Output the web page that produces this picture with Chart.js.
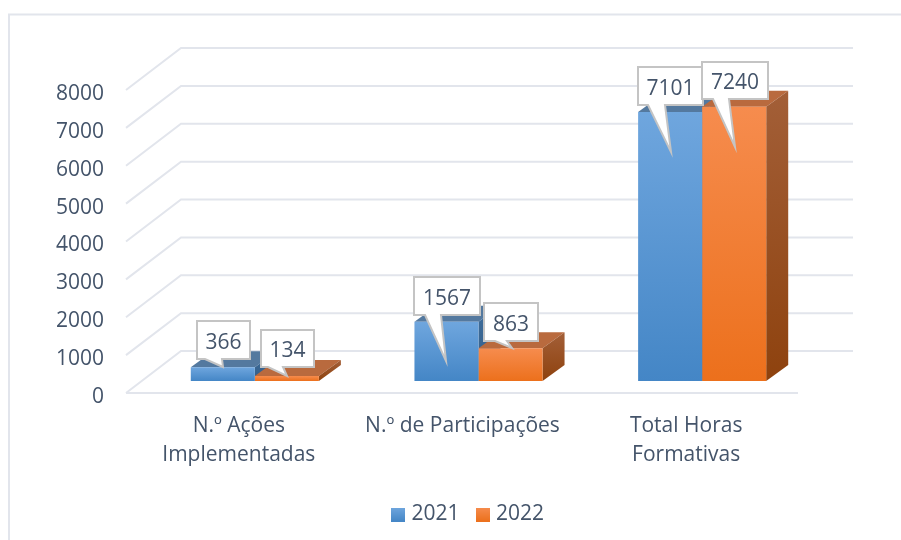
<!DOCTYPE html>
<html><head><meta charset="utf-8">
<style>html,body{margin:0;padding:0;background:#fff}#w{width:901px;height:540px;position:relative}</style>
<script src="https://cdn.jsdelivr.net/npm/chart.js@4"></script>
</head><body><div id="w"><canvas id="c" width="901" height="540"></canvas></div>
<script>
const categories = [["N.º Ações","Implementadas"],"N.º de Participações",["Total Horas","Formativas"]];
const years = ["2021","2022"];
const values2021 = [366,1567,7101];
const values2022 = [134,863,7240];
const yMax = 8000, yStep = 1000;

const FONT = '"Open Sans"';
const TEXT = '#44546a';
const GRID = '#e2e5ec';
const front = [{top:'#6fa6de',bottom:'#4486c6',cap:'#54799f',side:'#3f6e9c',side2:'#335d88'},
               {top:'#f68c4e',bottom:'#ec701c',cap:'#b96a3e',side:'#a35f38',side2:'#8e420e'}];
// callout box offsets relative to the top-centre of each bar: [left,right,top,bottom,tailA,tailB,tipX,tipY]
const callouts = [
 [[-26,27,-46,-8,-18,-1,0,0],[-32,34,-45,-7,-21,-5,0,39],[-32,33,-45,-7,-22,-5,1,40]],
 [[-26,27,-46,-9,-19,-4,0,0],[-27,27,-45,-7,-16,-4,1,0],[-32,34,-45,-8,-21,-5,1,40]]
];
const DX=22, DY=-16;

function vGrad(c,y0,y1,a,b){const g=c.createLinearGradient(0,y0,0,y1);g.addColorStop(0,a);g.addColorStop(1,b);return g;}
function swatch(p){const s=document.createElement('canvas');s.width=14;s.height=14;const x=s.getContext('2d');
  x.fillStyle=vGrad(x,0,14,p.top,p.bottom);x.fillRect(0,0,14,14);return s;}

const scene = {
  id:'scene',
  afterLayout(ch){ ch.legend.left-=9; ch.legend.right-=9; ch.legend.top-=5; ch.legend.bottom-=5; },
  beforeDatasetsDraw(ch){
    const c=ch.ctx,y=ch.scales.y,a=ch.chartArea;
    c.save();
    c.strokeStyle=GRID;c.lineWidth=2;c.strokeRect(9,14.5,900,540);
    const fl=a.left-17, bl=a.left+38, br=a.right+39, fr=a.right-16;
    y.ticks.forEach(t=>{
      const p=y.getPixelForValue(t.value);
      c.beginPath();c.moveTo(fl,p+12);c.lineTo(bl,p-30);c.lineTo(br,p-30);c.stroke();
    });
    const p0=y.getPixelForValue(0);
    c.beginPath();c.moveTo(fl,p0+12);c.lineTo(fr,p0+12);c.stroke();
    ch.data.datasets.forEach((ds,i)=>{
      const pal=front[i];
      ch.getDatasetMeta(i).data.forEach(b=>{
        const l=b.x-b.width/2,r=b.x+b.width/2,t=b.y,bt=b.base;
        c.fillStyle=pal.cap;
        c.beginPath();c.moveTo(l,t);c.lineTo(l+DX,t+DY);c.lineTo(r+DX,t+DY);c.lineTo(r,t);c.closePath();c.fill();
        c.fillStyle=vGrad(c,t+DY,bt,pal.side,pal.side2);
        c.beginPath();c.moveTo(r,t);c.lineTo(r+DX,t+DY);c.lineTo(r+DX,bt+DY);c.lineTo(r,bt);c.closePath();c.fill();
      });
    });
    c.restore();
  },
  afterDatasetsDraw(ch){
    const c=ch.ctx;
    c.save();
    c.font='21px '+FONT;c.textAlign='center';c.textBaseline='middle';
    ch.data.datasets.forEach((ds,i)=>{
      ch.getDatasetMeta(i).data.forEach((b,j)=>{
        const [L,R,T,B,A,E,TX,TY]=callouts[i][j];
        const x=Math.round(b.x),y=Math.round(b.y);
        c.beginPath();
        c.moveTo(x+L,y+T);c.lineTo(x+R,y+T);c.lineTo(x+R,y+B);c.lineTo(x+E,y+B);
        c.lineTo(x+TX,y+TY);c.lineTo(x+A,y+B);c.lineTo(x+L,y+B);c.closePath();
        c.fillStyle='#fff';c.strokeStyle='#c4c4c4';c.lineWidth=2;c.lineJoin='miter';
        c.fill();c.stroke();
        c.fillStyle=TEXT;
        c.fillText(String(ds.data[j]),x+(L+R)/2,y+(T+B)/2+3);
      });
    });
    c.restore();
  }
};

const ctx=document.getElementById('c').getContext('2d');
new Chart(ctx,{
  type:'bar',
  data:{labels:categories,datasets:[values2021,values2022].map((d,i)=>({
    label:years[i],data:d,borderWidth:0,barPercentage:1,categoryPercentage:0.5727,
    backgroundColor:(cx)=>{
      const s=cx.chart.scales.y;
      if(!s||cx.dataIndex===undefined) return front[i].top;
      return vGrad(cx.chart.ctx,s.getPixelForValue(d[cx.dataIndex]),s.getPixelForValue(0),front[i].top,front[i].bottom);
    }
  }))},
  options:{
    responsive:false,animation:false,
    layout:{padding:{left:0,right:87,top:78,bottom:0}},
    scales:{
      x:{grid:{display:false,drawTicks:false},border:{display:false},
         ticks:{color:TEXT,font:{family:FONT,size:21,lineHeight:1.38},padding:31,labelOffset:-16,maxRotation:0,autoSkip:false},
         afterFit(s){s.height=108;}},
      y:{min:0,max:yMax,grid:{display:false,drawTicks:false},border:{display:false},
         ticks:{stepSize:yStep,color:TEXT,font:{family:FONT,size:21},padding:39,labelOffset:16,callback:v=>String(v)},
         afterFit(s){s.width=143;}}
    },
    plugins:{
      tooltip:{enabled:false},
      legend:{position:'bottom',fullSize:false,
        labels:{color:TEXT,font:{family:FONT,size:21,lineHeight:1.2},padding:20,usePointStyle:true,pointStyleWidth:6,boxHeight:14,
          generateLabels(ch){return ch.data.datasets.map((ds,i)=>({text:ds.label,fontColor:TEXT,fillStyle:front[i].top,lineWidth:0,strokeStyle:'transparent',pointStyle:swatch(front[i]),datasetIndex:i,hidden:false}));}
        }}
    }
  },
  plugins:[scene]
});
</script></body></html>
